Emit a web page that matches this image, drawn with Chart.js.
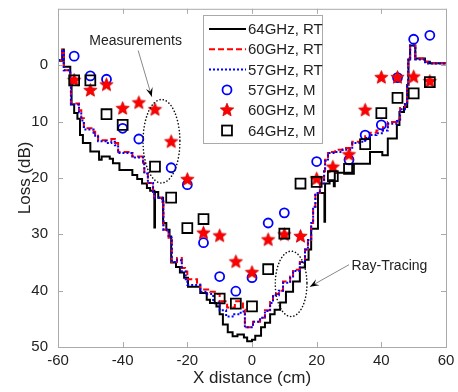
<!DOCTYPE html>
<html>
<head>
<meta charset="utf-8">
<script src="https://cdn.jsdelivr.net/npm/chart.js@4.4.0/dist/chart.umd.min.js"></script>
<style>
  html, body { margin: 0; padding: 0; background: #fff; }
</style>
</head>
<body>
<canvas id="chart" width="458" height="392"></canvas>
<script>
// Ray-tracing results: [x (cm), loss (dB)] step breakpoints, value holds until next x
const rt64 = [[-60,-0.8],[-58.7,-2.8],[-58.2,0.3],[-56.2,2.5],[-55.8,7.0],[-55,8.5],[-54,9.5],[-53.2,12.4],[-52.3,13.8],
  [-50,15.3],[-47.3,16.8],[-46.5,16.2],[-44,16.6],[-43,17.4],[-41,18.6],[-37,19.5],[-35.5,20.2],[-34,21.0],[-32.5,21.8],
  [-31.5,22.3],[-30.2,28.8],[-30,22.5],[-29,23.5],[-27.5,28.0],[-26.5,29.2],[-25.5,30.4],[-25,35.0],[-23.5,35.8],
  [-22.3,36.8],[-21,37.7],[-19.8,39.3],[-16,40.4],[-14,41.6],[-13,42.2],[-11,42.8],[-10,44.2],[-9,46.0],[-7.5,47.4],
  [-6,48.1],[-4.5,47.8],[-2.5,48.3],[-1.5,49.0],[0,48.7],[1,48.0],[2.8,46.5],[4,45.7],[5.6,44.2],[7,43.4],[8.7,42.1],
  [10.5,40.2],[12.7,38.4],[14.8,35.9],[16.4,34.5],[17.5,32.7],[18.3,29.0],[20.4,22.7],[22.4,27.8],[22.6,21.0],[24,20.4],
  [25.3,21.5],[25.6,19.1],[31,17.5],[36.5,15.4],[40.3,16.0],[42,13.0],[44.8,10.6],[45.6,8.3],[47,7.4],[48,3.5],
  [48.4,-1.0],[48.9,-3.5],[50.5,-1.2],[53.5,-0.6],[55,-0.35],[60,-0.35]];

const rt60 = [[-60,-0.9],[-58.7,-2.7],[-58.2,0.9],[-56.2,2.3],[-56,6.8],[-53.5,8.0],[-52.8,9.4],[-52,11.2],[-49,11.8],
  [-48.5,12.2],[-47.6,13.3],[-43.5,13.1],[-42.4,13.8],[-41.4,15.4],[-37,16.2],[-33.7,17.3],[-33.3,19.2],[-32.2,20.9],
  [-30.6,22.5],[-30.2,23.5],[-27.8,24.2],[-27.4,29.2],[-26.3,29.6],[-25.8,30.6],[-24.8,34.9],[-23.2,34.2],[-21.7,36.0],
  [-20.7,36.6],[-20,38.0],[-17,38.6],[-16,39.8],[-13,40.2],[-11.5,40.6],[-10,42.5],[-9.3,41.9],[-7.7,43.0],[-5.3,41.9],
  [-2.8,43.4],[-2.2,46.5],[0.3,45.5],[2.5,44.8],[4,43.5],[5.6,42.0],[6.5,40.6],[8.3,40.0],[9.6,38.4],[11.8,37.5],
  [12.7,36.3],[14.8,34.9],[16.4,32.7],[17.3,31.0],[18.3,28.0],[18.9,25.1],[19.6,22.7],[21,21.0],[22.3,18.8],[22.6,16.8],
  [23.5,15.4],[25.7,15.0],[28,14.7],[31,13.6],[33.4,13.3],[35,12.6],[36.5,12.0],[38.5,11.6],[40.5,11.0],[42,10.1],
  [44.8,9.7],[45.8,7.6],[47.3,6.7],[48,3.5],[48.3,-1.2],[48.9,-3.5],[50.5,-1.2],[53.5,-0.6],[54.5,-0.35],[60,-0.35]];

const rt57 = [[-60,-0.9],[-58.7,-2.7],[-58.2,0.9],[-56.2,2.3],[-56,7.0],[-53.5,8.4],[-52.8,9.8],[-52,11.4],[-49,12.0],
  [-48.5,12.5],[-47.6,13.5],[-45,13.8],[-43.5,13.6],[-42.4,14.2],[-41.4,15.6],[-37,16.4],[-33.7,17.6],[-33.3,19.2],
  [-32.2,20.9],[-30.6,22.5],[-30.2,23.5],[-27.8,24.2],[-27.4,29.2],[-26.3,29.6],[-25.8,30.6],[-24.8,34.9],[-23.2,34.6],
  [-21.7,36.6],[-20.5,38.0],[-20,39.0],[-16,40.2],[-14,40.6],[-12,42.1],[-10,43.5],[-8,44.6],[-5.5,44.2],[-3.5,43.7],
  [-2.2,46.5],[0.3,45.5],[2.5,44.8],[4,43.6],[5.6,42.2],[6.5,40.8],[8.3,40.0],[9.6,38.6],[11.8,37.7],[12.7,36.5],
  [14.8,34.9],[16.4,32.7],[17.3,31.0],[18.3,28.0],[18.9,25.1],[19.6,22.7],[21,21.0],[22.3,18.8],[22.6,17.0],[23.5,15.6],
  [25.7,15.4],[28,15.0],[31,13.8],[33.4,13.6],[35,12.9],[36.5,12.4],[38.5,12.1],[40.5,11.6],[42,10.4],[44.8,9.9],
  [45.8,7.8],[47.3,6.9],[48,3.5],[48.3,-1.2],[48.9,-3.5],[50.5,-1.0],[53.5,-0.5],[54.5,-0.3],[60,-0.3]];

// Measurement positions and losses (null = no sample shown)
const measX = [-55,-50,-45,-40,-35,-30,-25,-20,-15,-10,-5,0,5,10,15,20,25,30,35,40,45,50,55];
const meas57 = [-1.6,1.9,2.5,11.2,13.1,null,18.2,21.2,31.5,37.5,40.1,37.7,28.0,26.2,null,17.1,null,16.8,12.4,10.6,2.2,-4.6,-5.3];
const meas60 = [2.7,4.5,3.5,7.7,6.7,7.9,13.6,20.3,29.8,30.3,34.9,36.8,31.0,30.1,30.4,20.2,18.1,15.9,8.0,2.2,2.2,2.1,2.9];
const meas64 = [2.7,2.7,8.7,10.6,null,18.0,23.5,28.9,27.3,41.4,42.3,42.8,36.2,29.9,21.0,20.7,19.7,18.4,14.0,8.5,5.8,5.0,3.0];

const xTicks = [-60, -40, -20, 0, 20, 40, 60];
const yTicks = [0, 10, 20, 30, 40, 50];

const FONT = "'Liberation Sans', Arial, sans-serif";

function toPoints(pairs) {
  return pairs.map(p => ({ x: p[0], y: p[1] }));
}
function toMeas(values) {
  const out = [];
  values.forEach((v, i) => { if (v !== null) out.push({ x: measX[i], y: v }); });
  return out;
}

// filled five point star used for the 60GHz measurements
function drawStar(g, cx, cy, r, color) {
  g.beginPath();
  for (let i = 0; i < 10; i++) {
    const rr = i % 2 ? r * 0.45 : r;
    const a = -Math.PI / 2 + i * Math.PI / 5;
    g.lineTo(cx + rr * Math.cos(a), cy + rr * Math.sin(a));
  }
  g.closePath();
  g.fillStyle = color;
  g.fill();
  g.strokeStyle = '#d00000';
  g.lineWidth = 0.8;
  g.stroke();
}
function makeStar(r, color) {
  const c = document.createElement('canvas');
  const s = Math.ceil(r * 2 + 3);
  c.width = s; c.height = s;
  drawStar(c.getContext('2d'), s / 2, s / 2, r, color);
  return c;
}
const starImg = makeStar(7, '#ff0000');

// annotation shapes, in data units
const measEllipse = { x: -28, y: 13.5, rx: 5.7, ry: 7.4 };
const rtEllipse = { x: 12.1, y: 38.8, rx: 4.9, ry: 5.8 };
const measLabel = { text: 'Measurements', x: -36, y: -4.2, from: [-35.2, -2.6], to: [-31, 5.6] };
const rtLabel = { text: 'Ray-Tracing', x: 30.8, y: 35.6, from: [30, 35.4], to: [17.9, 39.3] };

function arrow(ctx, x1, y1, x2, y2) {
  ctx.strokeStyle = '#888';
  ctx.lineWidth = 1;
  ctx.setLineDash([]);
  ctx.beginPath();
  ctx.moveTo(x1, y1);
  ctx.lineTo(x2, y2);
  ctx.stroke();
  const a = Math.atan2(y2 - y1, x2 - x1);
  const len = 9, w = 3.5;
  ctx.fillStyle = '#000';
  ctx.beginPath();
  ctx.moveTo(x2, y2);
  ctx.lineTo(x2 - len * Math.cos(a) + w * Math.sin(a), y2 - len * Math.sin(a) - w * Math.cos(a));
  ctx.lineTo(x2 - len * 0.6 * Math.cos(a), y2 - len * 0.6 * Math.sin(a));
  ctx.lineTo(x2 - len * Math.cos(a) - w * Math.sin(a), y2 - len * Math.sin(a) + w * Math.cos(a));
  ctx.closePath();
  ctx.fill();
}

function dottedEllipse(ctx, xs, ys, e) {
  const cx = xs.getPixelForValue(e.x), cy = ys.getPixelForValue(e.y);
  const rx = Math.abs(xs.getPixelForValue(e.x + e.rx) - cx);
  const ry = Math.abs(ys.getPixelForValue(e.y + e.ry) - cy);
  ctx.strokeStyle = '#111';
  ctx.lineWidth = 1.6;
  ctx.lineCap = 'round';
  ctx.setLineDash([0.1, 3.2]);
  ctx.beginPath();
  ctx.ellipse(cx, cy, rx, ry, 0, 0, Math.PI * 2);
  ctx.stroke();
  ctx.lineCap = 'butt';
  ctx.setLineDash([]);
}

function drawMarker(ctx, ds, x, y) {
  if (ds.pointStyle === 'circle') {
    ctx.strokeStyle = ds.borderColor;
    ctx.lineWidth = ds.borderWidth;
    ctx.beginPath();
    ctx.arc(x, y, ds.pointRadius, 0, Math.PI * 2);
    ctx.stroke();
  } else if (ds.pointStyle === 'rect') {
    const s = Math.SQRT1_2 * ds.pointRadius;
    ctx.strokeStyle = ds.borderColor;
    ctx.lineWidth = ds.borderWidth;
    ctx.strokeRect(x - s, y - s, 2 * s, 2 * s);
  } else {
    drawStar(ctx, x, y, 7, '#ff0000');
  }
}

// keep the plot box where it should be: no extra room for edge labels
function noEdgePadding(s) {
  s.paddingTop = 0;
  s.paddingBottom = 0;
  s.paddingLeft = 0;
  s.paddingRight = 0;
}

const overlay = {
  id: 'overlay',
  afterDatasetsDraw(chart) {
    const { ctx, chartArea: a, scales } = chart;
    const xs = scales.x, ys = scales.y;
    ctx.save();

    // axes box with inward ticks
    ctx.strokeStyle = '#aaa';
    ctx.lineWidth = 1;
    ctx.strokeRect(a.left + 0.5, a.top + 0.5, a.right - a.left, a.bottom - a.top);
    ctx.beginPath();
    xTicks.forEach(v => {
      const px = Math.round(xs.getPixelForValue(v)) + 0.5;
      ctx.moveTo(px, a.bottom); ctx.lineTo(px, a.bottom - 5);
      ctx.moveTo(px, a.top); ctx.lineTo(px, a.top + 5);
    });
    yTicks.forEach(v => {
      const py = Math.round(ys.getPixelForValue(v)) + 0.5;
      ctx.moveTo(a.left, py); ctx.lineTo(a.left + 5, py);
      ctx.moveTo(a.right, py); ctx.lineTo(a.right - 5, py);
    });
    ctx.stroke();

    // callouts
    dottedEllipse(ctx, xs, ys, measEllipse);
    dottedEllipse(ctx, xs, ys, rtEllipse);
    ctx.font = '14px ' + FONT;
    ctx.fillStyle = '#222';
    ctx.textBaseline = 'middle';
    ctx.textAlign = 'center';
    ctx.fillText(measLabel.text, xs.getPixelForValue(measLabel.x), ys.getPixelForValue(measLabel.y));
    ctx.textAlign = 'left';
    ctx.fillText(rtLabel.text, xs.getPixelForValue(rtLabel.x), ys.getPixelForValue(rtLabel.y));
    [measLabel, rtLabel].forEach(l => {
      arrow(ctx, xs.getPixelForValue(l.from[0]), ys.getPixelForValue(l.from[1]),
        xs.getPixelForValue(l.to[0]), ys.getPixelForValue(l.to[1]));
    });

    // legend box
    const box = { left: 203, top: 15, right: 322, bottom: 143 };
    ctx.fillStyle = '#fff';
    ctx.fillRect(box.left, box.top, box.right - box.left, box.bottom - box.top);
    ctx.strokeStyle = '#aaa';
    ctx.lineWidth = 1;
    ctx.strokeRect(box.left + 0.5, box.top + 0.5, box.right - box.left, box.bottom - box.top);
    ctx.font = '15px ' + FONT;
    ctx.textAlign = 'left';
    ctx.textBaseline = 'middle';
    chart.data.datasets.forEach((ds, i) => {
      const ry = 29 + i * 20.3;
      if (ds.showLine === false) {
        drawMarker(ctx, ds, 227, ry);
      } else {
        ctx.strokeStyle = ds.borderColor;
        ctx.lineWidth = ds.borderWidth;
        ctx.setLineDash(ds.borderDash || []);
        ctx.beginPath();
        ctx.moveTo(209, ry);
        ctx.lineTo(246, ry);
        ctx.stroke();
        ctx.setLineDash([]);
      }
      ctx.fillStyle = '#222';
      ctx.fillText(ds.label, 248, ry + 1);
    });
    ctx.restore();
  }
};

new Chart(document.getElementById('chart'), {
  type: 'line',
  data: {
    datasets: [
      { label: '64GHz, RT', data: toPoints(rt64), borderColor: '#000', borderWidth: 2,
        stepped: true, pointRadius: 0, fill: false, order: 6 },
      { label: '60GHz, RT', data: toPoints(rt60), borderColor: '#ff0000', borderWidth: 2,
        borderDash: [6, 3], stepped: true, pointRadius: 0, fill: false, order: 5 },
      { label: '57GHz, RT', data: toPoints(rt57), borderColor: '#0000ff', borderWidth: 2,
        borderDash: [2, 2], stepped: true, pointRadius: 0, fill: false, order: 4 },
      { label: '57GHz, M', data: toMeas(meas57), showLine: false, pointStyle: 'circle',
        pointRadius: 4.5, borderColor: '#0000ff', backgroundColor: 'rgba(0,0,0,0)', borderWidth: 1.8, order: 3 },
      { label: '60GHz, M', data: toMeas(meas60), showLine: false, pointStyle: starImg,
        pointRadius: 7, borderColor: '#ff0000', backgroundColor: '#ff0000', borderWidth: 1, order: 2 },
      { label: '64GHz, M', data: toMeas(meas64), showLine: false, pointStyle: 'rect',
        pointRadius: 7, borderColor: '#000', backgroundColor: 'rgba(0,0,0,0)', borderWidth: 1.8, order: 1 }
    ]
  },
  options: {
    responsive: false,
    animation: false,
    layout: { padding: { top: 8, right: 12, left: 0, bottom: 0 } },
    plugins: { legend: { display: false }, tooltip: { enabled: false } },
    scales: {
      x: {
        type: 'linear',
        min: -60, max: 60,
        afterFit: s => { s.height = 45; noEdgePadding(s); },
        afterBuildTicks: s => { s.ticks = xTicks.map(v => ({ value: v })); },
        grid: { display: false, drawTicks: false },
        border: { display: false },
        ticks: { padding: 5, color: '#222', font: { family: FONT, size: 15 } },
        title: { display: true, text: 'X distance (cm)', color: '#222',
          font: { family: FONT, size: 17 }, padding: { top: 0, bottom: 3 } }
      },
      y: {
        type: 'linear',
        reverse: true,
        min: -10, max: 50,
        afterFit: s => { s.width = 58; noEdgePadding(s); },
        afterBuildTicks: s => { s.ticks = yTicks.map(v => ({ value: v })); },
        grid: { display: false, drawTicks: false },
        border: { display: false },
        ticks: { padding: 10, color: '#222', font: { family: FONT, size: 15 } },
        title: { display: true, text: 'Loss (dB)', color: '#222',
          font: { family: FONT, size: 17 }, padding: { top: 15, bottom: 0 } }
      }
    }
  },
  plugins: [overlay]
});
</script>
</body>
</html>
